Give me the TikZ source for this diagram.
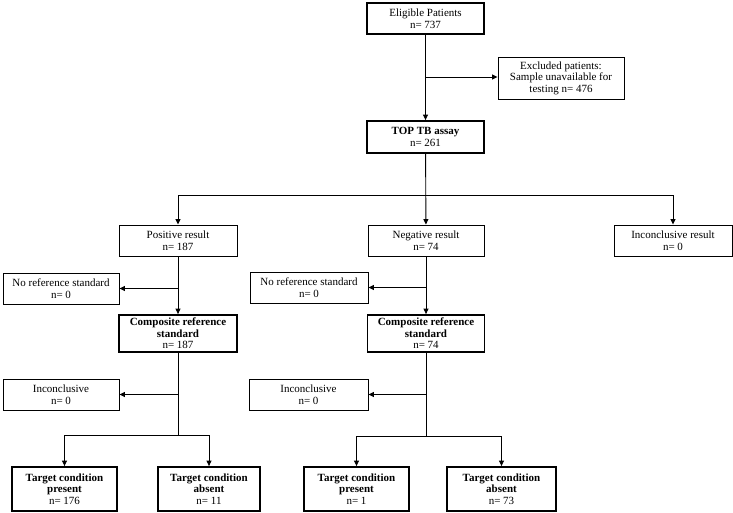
\documentclass[tikz,border=0pt]{standalone}
\usepackage{fontspec}
\setmainfont{Liberation Serif}
\usetikzlibrary{arrows.meta,positioning,calc}

\begin{document}
\begin{tikzpicture}[x=1pt,y=-1pt,>=Latex,
 box/.style={draw,line width=0.9pt,align=center,inner sep=1pt,font=\fontsize{11}{11.5}\selectfont},
 key/.style={box,line width=1.8pt},
 a/.style={-{Triangle[length=5.5pt,width=5pt]},line width=0.9pt}]
\useasboundingbox (0,0) rectangle (733,513);

\node[key,minimum width=117pt,minimum height=31pt] (elig) at (425.5,18.5) {Eligible Patients\\n= 737};
\node[box,minimum width=126pt,minimum height=42pt] (excl) at (561,78) {Excluded patients:\\Sample unavailable for\\testing n= 476};
\node[key,minimum width=117pt,minimum height=32pt] (top) at (425.5,137) {\textbf{TOP TB assay}\\n= 261};

\node[box,minimum width=118pt,minimum height=31pt] (pos) at (178,240.5) {Positive result\\n= 187};
\node[box,minimum width=116pt,minimum height=31pt] (neg) at (426,240.5) {Negative result\\n= 74};
\node[box,minimum width=118pt,minimum height=31pt] (inc) at (673,240.5) {Inconclusive result\\n= 0};

\node[box,minimum width=116pt,minimum height=31pt] (nrs1) at (61,288.5) {No reference standard\\n= 0};
\node[box,minimum width=118pt,minimum height=31pt] (nrs2) at (309,287.5) {No reference standard\\n= 0};

\node[key,minimum width=118pt,minimum height=37pt] (crs1) at (178,333.5) {\textbf{Composite reference}\\\textbf{standard}\\n= 187};
\node[key,minimum width=117pt,minimum height=37pt] (crs2) at (426,333.5) {\textbf{Composite reference}\\\textbf{standard}\\n= 74};

\node[box,minimum width=116pt,minimum height=31pt] (inc1) at (61,394.5) {Inconclusive\\n= 0};
\node[box,minimum width=119pt,minimum height=31pt] (inc2) at (308.5,394.5) {Inconclusive\\n= 0};

\node[key,minimum width=105pt,minimum height=44pt] (tp1) at (64.5,489) {\textbf{Target condition}\\\textbf{present}\\n= 176};
\node[key,minimum width=102pt,minimum height=44pt] (ta1) at (209,489) {\textbf{Target condition}\\\textbf{absent}\\n= 11};
\node[key,minimum width=105pt,minimum height=44pt] (tp2) at (356.5,489) {\textbf{Target condition}\\\textbf{present}\\n= 1};
\node[key,minimum width=109pt,minimum height=44pt] (ta2) at (501.5,489) {\textbf{Target condition}\\\textbf{absent}\\n= 73};

% top part
\coordinate (j1) at (426,77);
\draw[a] (elig) -- (top);
\draw[a] (j1) -- (j1 -| excl.west);

% split by result
\coordinate (b0) at (426,195);
\draw[a] (top) -- (neg);
\draw[a] (b0) -| (pos);
\draw[a] (b0) -| (inc);

% positive branch
\draw[a] (pos) -- (crs1);
\draw[a] (pos.south |- nrs1) -- (nrs1);
\coordinate (d1) at (178,435);
\draw[line width=0.9pt] (crs1) -- (d1);
\draw[a] (crs1.south |- inc1) -- (inc1);
\draw[a] (d1) -| (tp1);
\draw[a] (d1) -| (ta1);

% negative branch
\draw[a] (neg) -- (crs2);
\draw[a] (neg.south |- nrs2) -- (nrs2);
\coordinate (d2) at (426,436);
\draw[line width=0.9pt] (crs2) -- (d2);
\draw[a] (crs2.south |- inc2) -- (inc2);
\draw[a] (d2) -| (tp2);
\draw[a] (d2) -| (ta2);
\end{tikzpicture}
\end{document}
